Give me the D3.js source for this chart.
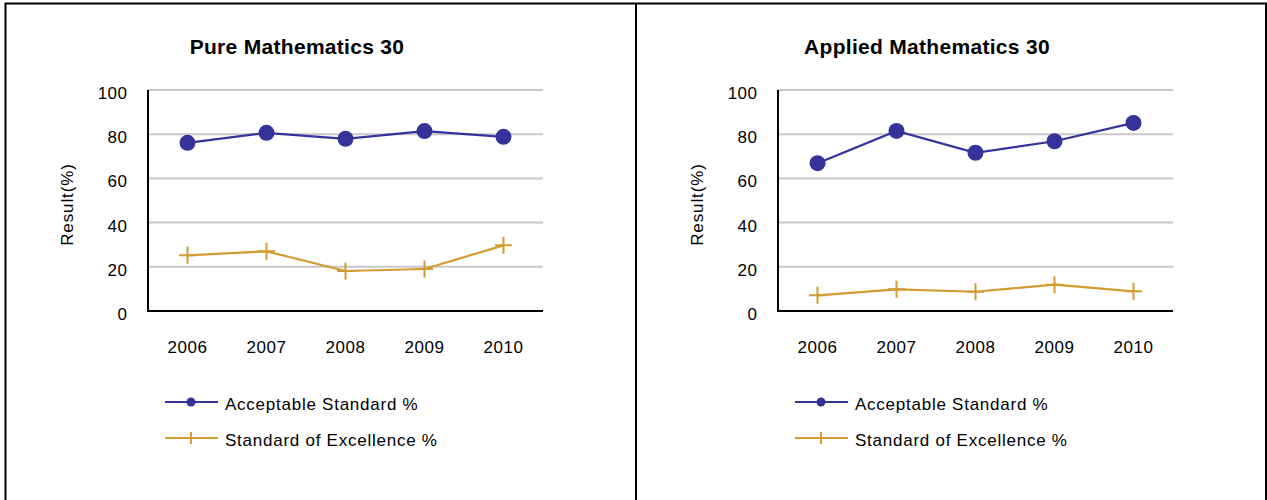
<!DOCTYPE html>
<html>
<head>
<meta charset="utf-8">
<script src="https://cdn.jsdelivr.net/npm/d3@7/dist/d3.min.js"></script>
<style>
  html, body { margin: 0; padding: 0; background: #fff; }
  svg { display: block; }
  text { font-family: "Liberation Sans", Arial, sans-serif; fill: #000; }
</style>
</head>
<body>
<svg id="chart" width="1267" height="500"></svg>
<script>
// Exam results by year for two Mathematics 30 courses
const years = ["2006", "2007", "2008", "2009", "2010"];
const yTicks = [0, 20, 40, 60, 80, 100];
const titles = ["Pure Mathematics 30", "Applied Mathematics 30"];
const seriesNames = ["Acceptable Standard %", "Standard of Excellence %"];
const pureAcceptable = [76.1, 80.6, 77.9, 81.4, 78.8];
const pureExcellence = [25.2, 27.0, 18.1, 19.0, 29.7];
const appliedAcceptable = [66.9, 81.5, 71.6, 76.8, 85.1];
const appliedExcellence = [7.1, 9.8, 8.7, 11.9, 8.9];
const axisTitle = "Result(%)";

const BLUE = "#333399";
const GOLD = "#D39B30";
const GRID = "#C8C8C8";
const FONT = "'Liberation Sans', Arial, sans-serif";

const svg = d3.select("#chart");

// page frame: top rule and column separators
svg.append("path")
  .attr("d", "M5.5,500 V3.5 H1266 V500 M636,3.5 V500")
  .attr("fill", "none")
  .attr("stroke", "#000")
  .attr("stroke-width", 2);

const panels = [
  { left: 148, title: titles[0], acc: pureAcceptable, exc: pureExcellence },
  { left: 778, title: titles[1], acc: appliedAcceptable, exc: appliedExcellence }
];

const plotW = 395, plotTop = 90, plotBottom = 311;

function plusPath(h) {
  return `M${-h},0 H${h} M0,${-h} V${h}`;
}

panels.forEach(p => {
  const g = svg.append("g").attr("transform", `translate(${p.left},0)`);

  const x = d3.scaleBand().domain(years).range([0, plotW]);
  const y = d3.scaleLinear().domain([0, 100]).range([plotBottom, plotTop]);
  const cx = d => x(d) + x.bandwidth() / 2;

  // title
  g.append("text")
    .attr("x", 149)
    .attr("y", 54)
    .attr("text-anchor", "middle")
    .style("font-size", "21px")
    .style("font-weight", "bold")
    .style("letter-spacing", "0.3px")
    .text(p.title);

  // horizontal gridlines
  g.append("g")
    .selectAll("line")
    .data(yTicks.filter(t => t > 0))
    .join("line")
    .attr("x1", 0).attr("x2", plotW)
    .attr("y1", d => y(d)).attr("y2", d => y(d))
    .attr("stroke", GRID)
    .attr("stroke-width", 2);

  // y tick labels
  const yAxis = g.append("g")
    .call(d3.axisLeft(y).tickValues(yTicks).tickSize(0).tickPadding(20.5));
  yAxis.select(".domain").remove();
  yAxis.selectAll("text")
    .attr("dy", "0.5em")
    .style("font-size", "17px")
    .style("letter-spacing", "0.5px")
    .style("font-family", FONT);

  // x tick labels
  const xAxis = g.append("g")
    .attr("transform", `translate(0,${plotBottom})`)
    .call(d3.axisBottom(x).tickSize(0).tickPadding(30));
  xAxis.select(".domain").remove();
  xAxis.selectAll("text")
    .style("font-size", "17px")
    .style("letter-spacing", "0.5px")
    .style("font-family", FONT);

  // axis lines
  g.append("path")
    .attr("d", `M0,${plotTop} V${plotBottom} H${plotW}`)
    .attr("fill", "none")
    .attr("stroke", "#000")
    .attr("stroke-width", 2);

  // y axis title
  g.append("text")
    .attr("transform", `translate(${-81},${(plotTop + plotBottom) / 2 + 4}) rotate(-90)`)
    .attr("text-anchor", "middle")
    .attr("dy", "0.35em")
    .style("font-size", "17px")
    .style("letter-spacing", "0.9px")
    .text(axisTitle);

  const line = d3.line().x((d, i) => cx(years[i])).y(d => y(d));

  // Standard of Excellence series
  g.append("path")
    .datum(p.exc)
    .attr("d", line)
    .attr("fill", "none")
    .attr("stroke", GOLD)
    .attr("stroke-width", 2.2);
  g.append("g")
    .selectAll("path")
    .data(p.exc)
    .join("path")
    .attr("transform", (d, i) => `translate(${cx(years[i])},${y(d)})`)
    .attr("d", plusPath(8.5))
    .attr("stroke", GOLD)
    .attr("stroke-width", 2)
    .attr("fill", "none");

  // Acceptable Standard series
  g.append("path")
    .datum(p.acc)
    .attr("d", line)
    .attr("fill", "none")
    .attr("stroke", BLUE)
    .attr("stroke-width", 2.2);
  g.append("g")
    .selectAll("circle")
    .data(p.acc)
    .join("circle")
    .attr("cx", (d, i) => cx(years[i]))
    .attr("cy", d => y(d))
    .attr("r", 8)
    .attr("fill", BLUE);

  // legend
  const leg = g.append("g").attr("transform", "translate(17,0)");
  const rows = [
    { name: seriesNames[0], color: BLUE, marker: "circle", y: 402 },
    { name: seriesNames[1], color: GOLD, marker: "plus", y: 438 }
  ];
  rows.forEach(r => {
    leg.append("line")
      .attr("x1", 0).attr("x2", 53)
      .attr("y1", r.y).attr("y2", r.y)
      .attr("stroke", r.color)
      .attr("stroke-width", 2);
    if (r.marker === "circle") {
      leg.append("circle")
        .attr("cx", 26).attr("cy", r.y).attr("r", 4.5)
        .attr("fill", r.color);
    } else {
      leg.append("path")
        .attr("transform", `translate(26,${r.y})`)
        .attr("d", "M0,-6 V6")
        .attr("stroke", r.color)
        .attr("stroke-width", 2);
    }
    leg.append("text")
      .attr("x", 60)
      .attr("y", r.y + 2)
      .attr("dy", "0.35em")
      .style("font-size", "17px")
      .style("letter-spacing", "0.75px")
      .text(r.name);
  });
});
</script>
</body>
</html>
